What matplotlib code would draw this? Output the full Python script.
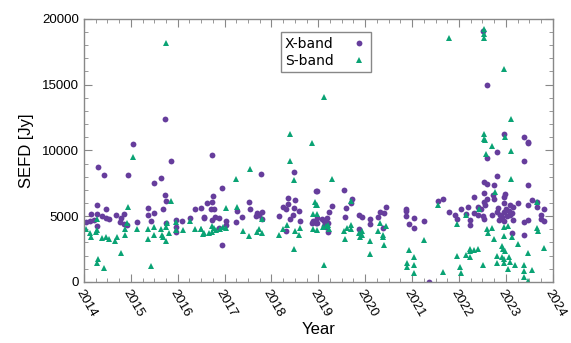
import numpy as np
import matplotlib
matplotlib.use("Agg")
import matplotlib.pyplot as plt
from matplotlib.ticker import MultipleLocator

# X-band SEFD (decimal year, Jy)
x_year = [2015.05, 2014.31, 2014.43, 2014.95, 2015.86, 2015.49, 2015.65, 2015.73, 2015.76, 2015.68,
          2015.37, 2015.49, 2015.37, 2015.44, 2015.14, 2014.27, 2014.48, 2014.14, 2014.27, 2014.39,
          2014.47, 2014.54, 2014.21, 2014.13, 2014.04, 2014.28, 2014.69, 2014.86, 2014.78, 2014.76,
          2014.85, 2014.92, 2015.76, 2015.96, 2015.96, 2015.96, 2016.10, 2016.26, 2016.37, 2016.49,
          2016.56, 2015.73,
          2016.74, 2017.78, 2018.49, 2016.94, 2018.96, 2016.76, 2016.63, 2016.74, 2017.52, 2018.36,
          2018.50, 2018.36, 2016.72, 2016.78, 2017.27, 2017.55, 2018.25, 2018.32, 2018.49, 2018.58,
          2017.69, 2017.79, 2017.74, 2016.57, 2016.79, 2016.88, 2016.73, 2017.04, 2017.04, 2017.24,
          2017.38, 2017.68, 2017.79, 2018.16, 2018.39, 2018.46, 2018.61, 2018.30, 2016.88, 2016.94,
          2018.89, 2018.96, 2018.87,
          2018.97, 2019.54, 2019.71, 2019.70, 2019.60, 2019.29, 2019.23, 2019.56, 2019.19, 2019.21,
          2019.07, 2018.97, 2018.97, 2019.13, 2019.13, 2019.17, 2019.21, 2019.87, 2019.93, 2019.87,
          2020.10, 2020.11, 2020.27, 2020.31, 2020.40, 2020.45, 2020.37, 2020.87, 2020.87, 2020.87,
          2020.94, 2021.04, 2021.04, 2021.25, 2021.36,
          2023.48, 2022.81, 2022.60, 2023.38, 2022.81, 2023.48, 2022.54, 2022.60, 2022.74, 2022.54,
          2022.73, 2022.74, 2022.98, 2022.97, 2022.32, 2022.60, 2022.54, 2022.56, 2021.55, 2021.65,
          2023.55, 2023.67, 2023.48, 2023.67, 2023.82, 2023.25, 2023.09, 2023.16, 2022.97, 2022.83,
          2022.40, 2022.47, 2022.20, 2022.04, 2021.79, 2021.92, 2021.95, 2022.15, 2022.33, 2022.40,
          2022.52, 2022.54, 2022.23, 2022.24, 2022.81, 2022.88, 2022.96, 2023.01, 2023.07, 2023.13,
          2023.02, 2023.09, 2022.91, 2022.86, 2022.96, 2022.71, 2023.15, 2023.13, 2023.38, 2023.38,
          2023.48, 2023.74, 2023.75, 2023.81,
          2022.52, 2022.60, 2022.96, 2023.38, 2023.47]
x_sefd = [10500, 8770, 8110, 8160, 9230, 7500, 7900, 6640, 6140, 5550,
          5600, 5250, 5100, 4660, 4560, 5830, 5530, 5150, 5170, 5020,
          4890, 4810, 4710, 4620, 4560, 4260, 5120, 5170, 4840, 4560,
          4410, 4360, 4460, 4710, 4160, 3780, 4620, 4870, 5530, 5650,
          4870, 12400,
          9680, 8210, 8370, 7170, 6920, 6540, 6030, 6060, 6060, 6410,
          6260, 5900, 5530, 5530, 5400, 5570, 5680, 5570, 5630, 5400,
          5270, 5350, 5100, 4920, 4920, 4840, 4710, 4620, 4360, 4560,
          4970, 5020, 4810, 5020, 4790, 5070, 4640, 3860, 4110, 2790,
          4660, 4460, 4460,
          6940, 7000, 6340, 5980, 5630, 5780, 5320, 4920, 4870, 4510,
          4810, 4870, 4460, 4620, 4260, 4160, 3800, 5070, 4970, 4000,
          4810, 4410, 4920, 5320, 5270, 5730, 4110, 5570, 5370, 5020,
          4410, 4870, 4110, 4660, 30,
          10600, 9890, 9430, 9180, 8060, 7400, 7600, 7450, 7400, 6740,
          6590, 6330, 6670, 6440, 6440, 6330, 6080, 5880, 6130, 6290,
          6240, 6080, 5830, 5730, 5570, 5980, 5880, 5730, 5980, 5630,
          5730, 5530, 5680, 5570, 5320, 5070, 4810, 5170, 5270, 5120,
          5020, 4810, 4710, 4360, 5320, 5120, 5320, 5530, 5370, 5270,
          5020, 5070, 4920, 4710, 4660, 5070, 4710, 3700, 3600, 4560,
          4710, 5120, 4770, 4620,
          19040, 14980, 11280, 11030, 10620]

# S-band SEFD (decimal year, Jy)
s_year = [2015.05, 2014.93, 2015.86, 2014.92, 2014.28, 2014.04, 2014.13, 2014.14, 2014.26, 2014.28,
          2014.39, 2014.48, 2014.53, 2014.70, 2014.67, 2014.87, 2014.87, 2014.80, 2014.31, 2014.27,
          2014.43, 2015.14, 2015.37, 2015.49, 2015.37, 2015.49, 2015.65, 2015.67, 2015.68, 2015.74,
          2015.78, 2015.82, 2015.76, 2015.43, 2015.96, 2015.96, 2016.12, 2016.26, 2016.36, 2016.49,
          2016.53, 2015.76,
          2018.87, 2018.39, 2018.49, 2017.55, 2017.24, 2017.04, 2017.27, 2017.79, 2018.92, 2018.96,
          2018.89, 2016.49, 2016.57, 2016.67, 2016.74, 2016.73, 2016.78, 2016.82, 2016.90, 2016.96,
          2017.04, 2017.40, 2017.52, 2017.69, 2017.74, 2017.79, 2018.16, 2018.25, 2018.34, 2018.50,
          2018.59, 2018.61, 2018.49, 2018.89, 2018.39,
          2019.29, 2018.97, 2019.70, 2018.97, 2018.97, 2019.10, 2019.21, 2019.23, 2019.17, 2019.54,
          2019.62, 2019.69, 2019.69, 2019.56, 2019.87, 2019.93, 2019.88, 2019.94, 2020.10, 2020.11,
          2020.27, 2020.31, 2020.45, 2020.37, 2020.38, 2020.40, 2019.12, 2020.94, 2021.04, 2020.89,
          2020.90, 2021.04, 2021.04, 2021.25, 2019.12,
          2022.71, 2022.57, 2023.11, 2023.11, 2022.76, 2021.55, 2022.42, 2022.15, 2023.67, 2021.95,
          2022.60, 2022.71, 2022.61, 2022.97, 2023.04, 2023.67, 2023.69, 2022.74, 2022.97, 2023.13,
          2023.25, 2022.24, 2022.32, 2022.40, 2022.23, 2022.91, 2022.94, 2022.98, 2023.81, 2021.95,
          2022.15, 2022.24, 2022.81, 2022.91, 2022.97, 2023.07, 2023.48, 2022.81, 2022.96, 2023.09,
          2022.52, 2023.20, 2023.38, 2023.04, 2022.03, 2023.55, 2023.38, 2021.66, 2022.04, 2023.38,
          2023.48, 2022.56,
          2022.53, 2022.53, 2022.53, 2021.79, 2022.97, 2023.11, 2022.53, 2022.53, 2022.98]
s_sefd = [9530, 5730, 6180, 4510, 4770, 4000, 3750, 3450, 3800, 3950,
          3320, 3400, 3300, 3450, 3140, 4000, 3570, 2180, 1730, 1470,
          1060, 4000, 4000, 4160, 3300, 3550, 4000, 3600, 3400, 4160,
          4510, 3700, 3120, 1220, 4560, 3950, 3950, 4620, 4000, 4000,
          3650, 18170,
          10600, 9230, 7760, 8570, 7810, 5630, 5680, 4810, 6080, 5830,
          5170, 4000, 3700, 3700, 3800, 4260, 4110, 3950, 4000, 4160,
          4080, 3900, 3470, 3800, 4000, 3750, 3600, 4050, 4310, 3900,
          3600, 4080, 2490, 4050, 11230,
          7860, 5880, 6130, 5170, 3950, 4160, 4360, 4050, 4260, 3900,
          4110, 4310, 4000, 3250, 3750, 3900, 3450, 3550, 3140, 2130,
          3900, 4510, 4260, 3550, 3400, 2840, 1270, 2430, 1930, 1420,
          1120, 1320, 710, 3190, 14070,
          10300, 9730, 9940, 7860, 6840, 5830, 5570, 5070, 6080, 4410,
          4050, 4110, 3700, 4210, 4260, 4110, 3900, 3300, 3500, 3450,
          2890, 2530, 2430, 2490, 2380, 2740, 2530, 2380, 2590, 1980,
          2080, 1930, 1980, 1930, 1770, 1930, 2180, 1420, 1470, 1520,
          1270, 1270, 1270, 1010, 1170, 910, 860, 760, 660, 360,
          100, 10800,
          19240, 18830, 18580, 18580, 16200, 12400, 11280, 10870, 11030]

purple = "#663d9c"
green = "#0aa374"
edge = "#888888"

plt.rcParams['font.family'] = ['Liberation Sans', 'DejaVu Sans']

fig = plt.figure(figsize=(5.71, 3.43), dpi=100)
ax = fig.add_axes([0.147, 0.178, 0.821, 0.767])

ax.plot(x_year, x_sefd, "o", color=purple, markersize=4.2, markeredgewidth=0, label="X-band")
ax.plot(s_year, s_sefd, "^", color=green, markersize=3.8, markeredgewidth=0, label="S-band")

ax.set_xlim(2014, 2024)
ax.set_ylim(0, 20000)
ax.xaxis.set_major_locator(MultipleLocator(1))
ax.xaxis.set_minor_locator(MultipleLocator(0.25))
ax.yaxis.set_major_locator(MultipleLocator(5000))
ax.yaxis.set_minor_locator(MultipleLocator(1000))
ax.set_xticks(range(2014, 2025))
ax.set_xticklabels([str(y) for y in range(2014, 2025)], rotation=-60,
                   ha="left", va="top", rotation_mode="anchor")

ax.tick_params(which="both", direction="in", top=True, right=True, colors=edge,
               labelcolor="black", labelsize=9.5)
ax.tick_params(which="major", length=6, width=0.8)
ax.tick_params(which="minor", length=3, width=0.6)
ax.tick_params(axis="x", pad=4)
for s in ax.spines.values():
    s.set_color(edge)
    s.set_linewidth(1.0)

ax.set_xlabel("Year", fontsize=12, labelpad=2)
ax.set_ylabel("SEFD [Jy]", fontsize=12, labelpad=6)

leg = ax.legend(loc="upper left", bbox_to_anchor=(0.405, 0.975), markerfirst=False,
                fancybox=False, framealpha=1, edgecolor=edge, handletextpad=1.2,
                borderpad=0.3, labelspacing=0.25, handlelength=1.2,
                prop={"family": "DejaVu Sans", "size": 10})
leg.get_frame().set_linewidth(1.0)

fig.savefig("out.png", dpi=100)
